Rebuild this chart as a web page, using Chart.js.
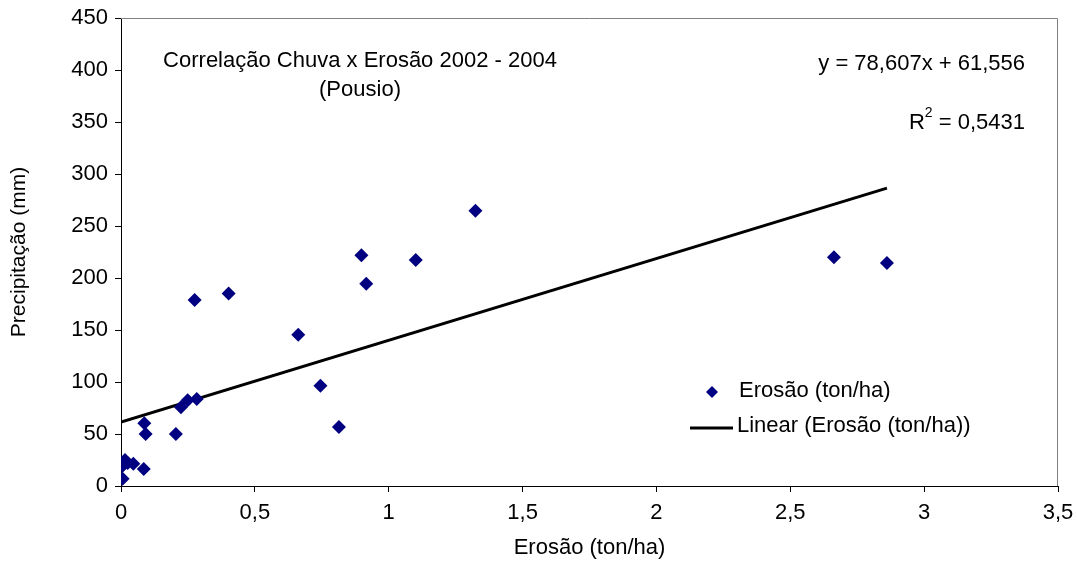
<!DOCTYPE html>
<html>
<head>
<meta charset="utf-8">
<script src="https://cdn.jsdelivr.net/npm/chart.js@4"></script>
<style>
  body { margin: 0; background: #fff; }
  canvas { display: block; }
</style>
</head>
<body>
<canvas id="chart" width="1077" height="561"></canvas>
<script>
// Erosão (ton/ha) vs Precipitação (mm)
const erosao = [0.006, 0.006, 0.015, 0.025, 0.046, 0.085, 0.087, 0.092, 0.205, 0.224, 0.249, 0.275, 0.283,
                0.402, 0.662, 0.745, 0.814, 0.898, 0.916, 1.101, 1.324, 2.663, 2.861];
const precipitacao = [7, 19.5, 25, 22, 21.5, 16.3, 60.3, 50, 50, 75.7, 82.4, 178.8, 83.7,
                      185, 145.5, 96.5, 56.7, 221.8, 194.5, 217.3, 264.7, 220, 214.4];

// trendline coefficients (from the chart's equation)
const slope = 78.607;
const intercept = 61.556;
const rSquared = '0,5431';

const xTicks = [0, 0.5, 1, 1.5, 2, 2.5, 3, 3.5];
const yTicks = [0, 50, 100, 150, 200, 250, 300, 350, 400, 450];

const FONT = 'Liberation Sans, Arial, sans-serif';
const SIZE = 22;
const NAVY = '#000080';

const points = erosao.map((x, i) => ({ x: x, y: precipitacao[i] }));
const xMax = Math.max(...erosao);
const trend = [0, xMax].map(x => ({ x: x, y: slope * x + intercept }));

function fmt(v) {
    return String(v).replace('.', ',');
}

// plot frame, notes and legend inside the plot area
const extras = {
    id: 'extras',
    beforeDatasetsDraw(chart) {
        const { ctx, chartArea: a } = chart;
        ctx.save();
        ctx.strokeStyle = '#808080';
        ctx.lineWidth = 1;
        ctx.beginPath();
        ctx.moveTo(a.left, a.top + 0.5);
        ctx.lineTo(a.right - 0.5, a.top + 0.5);
        ctx.lineTo(a.right - 0.5, a.bottom);
        ctx.stroke();
        ctx.restore();
    },
    afterDraw(chart) {
        const { ctx } = chart;
        ctx.save();
        ctx.fillStyle = '#000';
        ctx.font = SIZE + 'px ' + FONT;
        ctx.textBaseline = 'middle';

        ctx.textAlign = 'center';
        ctx.fillText('Correlação Chuva x Erosão 2002 - 2004', 360, 61);
        ctx.fillText('(Pousio)', 360, 90);

        ctx.textAlign = 'right';
        ctx.fillText('y = ' + fmt(slope) + 'x + ' + fmt(intercept), 1025, 64);
        ctx.fillText(' = ' + rSquared, 1025, 123);
        const w = ctx.measureText(' = ' + rSquared).width;
        ctx.font = '14px ' + FONT;
        ctx.fillText('2', 1025 - w, 113);
        const w2 = ctx.measureText('2').width;
        ctx.font = SIZE + 'px ' + FONT;
        ctx.fillText('R', 1025 - w - w2, 123);

        // legend
        ctx.textAlign = 'left';
        ctx.fillStyle = NAVY;
        ctx.beginPath();
        ctx.moveTo(712, 386);
        ctx.lineTo(718, 392);
        ctx.lineTo(712, 398);
        ctx.lineTo(706, 392);
        ctx.closePath();
        ctx.fill();
        ctx.fillStyle = '#000';
        ctx.fillText('Erosão (ton/ha)', 739, 391);

        ctx.strokeStyle = '#000';
        ctx.lineWidth = 3;
        ctx.beginPath();
        ctx.moveTo(690, 428);
        ctx.lineTo(733, 428);
        ctx.stroke();
        ctx.fillText('Linear (Erosão (ton/ha))', 737, 426);
        ctx.restore();
    }
};

new Chart(document.getElementById('chart'), {
    type: 'scatter',
    data: {
        datasets: [
            {
                label: 'Erosão (ton/ha)',
                data: points,
                pointStyle: 'rectRot',
                pointRadius: 7,
                pointBackgroundColor: NAVY,
                pointBorderColor: NAVY,
                pointBorderWidth: 0,
                order: 1
            },
            {
                label: 'Linear (Erosão (ton/ha))',
                type: 'line',
                data: trend,
                borderColor: '#000',
                borderWidth: 3,
                pointRadius: 0,
                fill: false,
                order: 2
            }
        ]
    },
    options: {
        responsive: false,
        animation: false,
        layout: { padding: { left: 0, top: 18, right: 19, bottom: 0 } },
        plugins: {
            legend: { display: false },
            tooltip: { enabled: false }
        },
        scales: {
            x: {
                type: 'linear',
                min: 0,
                max: 3.5,
                afterFit(scale) {
                    scale.height = 75;
                    scale.paddingLeft = 0;
                    scale.paddingRight = 0;
                },
                afterBuildTicks(scale) { scale.ticks = xTicks.map(v => ({ value: v })); },
                grid: { drawOnChartArea: false, drawTicks: true, tickLength: 6, color: '#000' },
                border: { color: '#000', width: 1 },
                ticks: {
                    color: '#000',
                    font: { family: FONT, size: SIZE },
                    padding: 8,
                    maxRotation: 0,
                    callback: v => fmt(v)
                },
                title: {
                    display: true,
                    text: 'Erosão (ton/ha)',
                    color: '#000',
                    font: { family: FONT, size: SIZE },
                    padding: { top: 0, bottom: 0 }
                }
            },
            y: {
                min: 0,
                max: 450,
                afterFit(scale) {
                    scale.width = 121;
                    scale.paddingTop = 0;
                    scale.paddingBottom = 0;
                },
                afterBuildTicks(scale) { scale.ticks = yTicks.map(v => ({ value: v })); },
                grid: { drawOnChartArea: false, drawTicks: true, tickLength: 6, color: '#000' },
                border: { color: '#000', width: 1 },
                ticks: {
                    color: '#000',
                    font: { family: FONT, size: SIZE },
                    padding: 7
                },
                title: {
                    display: true,
                    text: 'Precipitação (mm)',
                    color: '#000',
                    font: { family: FONT, size: 21 },
                    padding: { top: 7, bottom: 0 }
                }
            }
        }
    },
    plugins: [extras]
});
</script>
</body>
</html>
